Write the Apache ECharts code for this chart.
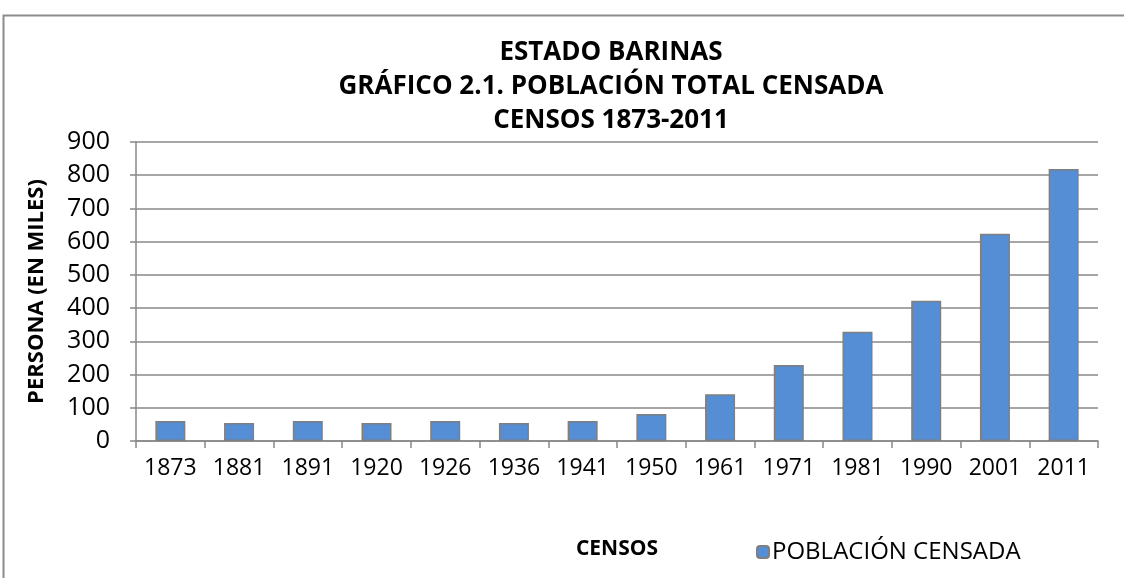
<!DOCTYPE html>
<html>
<head>
<meta charset="utf-8">
<script src="https://cdn.jsdelivr.net/npm/echarts@6/dist/echarts.min.js"></script>
<style>
  html, body { margin: 0; padding: 0; background: #fff; }
  #chart { width: 1124px; height: 578px; }
</style>
</head>
<body>
<div id="chart"></div>
<script>
const censos = ['1873', '1881', '1891', '1920', '1926', '1936', '1941', '1950', '1961', '1971', '1981', '1990', '2001', '2011'];
const poblacion = [60, 54, 60, 54, 60, 54, 60, 81, 141, 229, 329, 422, 624, 819];
const yTicks = [0, 100, 200, 300, 400, 500, 600, 700, 800, 900];

const font = '"Open Sans", sans-serif';
const chart = echarts.init(document.getElementById('chart'));

chart.setOption({
  backgroundColor: '#fff',
  animation: false,
  graphic: [{
    type: 'rect',
    shape: { x: 3.5, y: 15.5, width: 1130, height: 580 },
    style: { fill: 'none', stroke: '#8c8c8c', lineWidth: 2 }
  }],
  title: {
    text: 'ESTADO BARINAS\nGRÁFICO 2.1. POBLACIÓN TOTAL CENSADA\nCENSOS 1873-2011',
    left: 606,
    textAlign: 'center',
    top: 31,
    textStyle: { fontFamily: font, fontSize: 26, fontWeight: 'bold', color: '#000', lineHeight: 34 }
  },
  legend: {
    left: 751,
    top: 535,
    itemWidth: 12,
    itemHeight: 12,
    itemGap: 4,
    textStyle: { fontFamily: font, fontSize: 24, color: '#000', padding: [0, 0, 0, -2] },
    data: ['POBLACIÓN CENSADA']
  },
  grid: { left: 136, right: 26, top: 142, bottom: 137 },
  xAxis: {
    type: 'category',
    data: censos,
    name: 'CENSOS',
    nameLocation: 'middle',
    nameGap: 98,
    nameTextStyle: { fontFamily: font, fontSize: 21, fontWeight: 'bold', color: '#000' },
    axisLine: { lineStyle: { color: '#888', width: 1.5 } },
    axisTick: { show: true, length: 7, lineStyle: { color: '#888', width: 1.5 } },
    axisLabel: { fontFamily: font, fontSize: 23, color: '#000', margin: 16 }
  },
  yAxis: {
    type: 'value',
    min: yTicks[0],
    max: yTicks[yTicks.length - 1],
    interval: 100,
    name: 'PERSONA (EN MILES)',
    nameLocation: 'middle',
    nameGap: 88,
    nameTextStyle: { fontFamily: font, fontSize: 22, fontWeight: 'bold', color: '#000' },
    axisLine: { show: true, lineStyle: { color: '#888', width: 1.5 } },
    axisTick: { show: true, length: 6, lineStyle: { color: '#888', width: 1.5 } },
    axisLabel: { fontFamily: font, fontSize: 25, color: '#000', margin: 26 },
    splitLine: { lineStyle: { color: '#888', width: 1.5 } }
  },
  series: [{
    name: 'POBLACIÓN CENSADA',
    type: 'bar',
    data: poblacion,
    barWidth: 30,
    itemStyle: { color: '#558ED5', borderColor: '#7f7f7f', borderWidth: 1.5 }
  }]
});
</script>
</body>
</html>
